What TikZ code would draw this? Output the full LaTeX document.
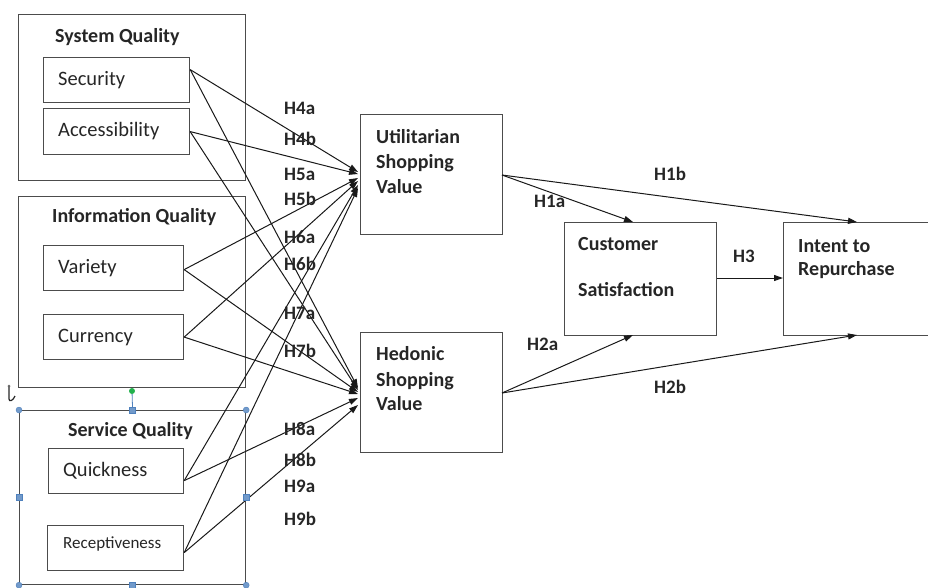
\documentclass[tikz,border=0pt]{standalone}
\usepackage{fontspec}
\setmainfont{Carlito}
\usetikzlibrary{arrows.meta}
\definecolor{handle}{HTML}{4F81BD}
\definecolor{rotgreen}{HTML}{22B14C}
\begin{document}
\begin{tikzpicture}[x=1pt,y=-1pt,
  box/.style={draw=black!70, line width=1.2pt, inner sep=0pt, anchor=north west},
  txt/.style={anchor=base west, inner sep=0pt, text=black!85},
  bold/.style={txt, font=\fontsize{20}{25}\selectfont\bfseries},
  reg/.style={txt, font=\fontsize{20.5}{25}\selectfont},
  small/.style={txt, font=\fontsize{17}{20}\selectfont},
  hyp/.style={txt, font=\fontsize{19}{22}\selectfont\bfseries},
  link/.style={draw=black!90, line width=1pt, -{Triangle[length=9pt,width=6pt]}},
  hsq/.style={draw=handle, fill=handle!80, minimum size=6pt, inner sep=0pt},
  hci/.style={circle, draw=handle, fill=handle!80, minimum size=6pt, inner sep=0pt}
]
\useasboundingbox (0,0) rectangle (928,587);

% ---------- group boxes ----------
\node[box, minimum width=227pt, minimum height=166pt] (sysq) at (18,14) {};
\node[box, minimum width=227pt, minimum height=191pt] (infq) at (18,196) {};
\node[box, minimum width=226pt, minimum height=174pt] (serq) at (19,410) {};

\node[bold] (tsys) at (55,42) {System Quality};
\node[bold] (tinf) at (52,222) {Information Quality};
\node[bold] (tser) at (68,436) {Service Quality};

% ---------- indicator boxes ----------
\node[box, minimum width=146pt, minimum height=45pt] (sec) at (43,57) {};
\node[box, minimum width=146pt, minimum height=46pt] (acc) at (43,108) {};
\node[box, minimum width=140pt, minimum height=45pt] (var) at (43,245) {};
\node[box, minimum width=140pt, minimum height=45pt] (cur) at (43,314) {};
\node[box, minimum width=135pt, minimum height=45pt] (qui) at (48,448) {};
\node[box, minimum width=136pt, minimum height=45pt] (rec) at (47,525) {};

\node[reg] (tsec) at (58,85) {Security};
\node[reg] (tacc) at (58,136) {Accessibility};
\node[reg] (tvar) at (58,273) {Variety};
\node[reg] (tcur) at (58,342) {Currency};
\node[reg] (tqui) at (63,476) {Quickness};
\node[small] (trec) at (63,548) {Receptiveness};

% ---------- construct boxes ----------
\node[box, minimum width=142pt, minimum height=120pt] (util) at (360,114) {};
\node[box, minimum width=142pt, minimum height=120pt] (hed) at (360,332) {};
\node[box, minimum width=152pt, minimum height=113pt] (cs) at (564,222) {};
\node[box, minimum width=160pt, minimum height=113pt] (itr) at (783,222) {};

\node[bold] (tu1) at (376,143) {Utilitarian};
\node[bold] (tu2) at (376,168) {Shopping};
\node[bold] (tu3) at (376,193) {Value};
\node[bold] (th1) at (376,360) {Hedonic};
\node[bold] (th2) at (376,386) {Shopping};
\node[bold] (th3) at (376,410) {Value};
\node[bold] (tc1) at (578,250) {Customer};
\node[bold] (tc2) at (578,296) {Satisfaction};
\node[bold] (ti1) at (798,252) {Intent to};
\node[bold] (ti2) at (798,275) {Repurchase};

% ---------- arrow end points ----------
\coordinate (u1) at (358,172);
\coordinate (u2) at (358,174);
\coordinate (u3) at (358,178);
\coordinate (u4) at (358,181);
\coordinate (u5) at (358,185);
\coordinate (u6) at (358,188);
\coordinate (h1) at (358,388);
\coordinate (h2) at (358,390);
\coordinate (h3) at (358,392);
\coordinate (h4) at (358,394);
\coordinate (h5) at (358,398);
\coordinate (h6) at (358,405);
\coordinate (csin1) at (633,222);
\coordinate (csin2) at (633,335);
\coordinate (itin1) at (857,222);
\coordinate (itin2) at (857,335);
\coordinate (uout) at (502,175);
\coordinate (hout) at (502,393);

% ---------- connectors ----------
\draw[link] ([yshift=10.5pt]sec.east) -- (u1);
\draw[link] ([yshift=10.5pt]sec.east) -- (h1);
\draw[link] (acc.east) -- (u2);
\draw[link] (acc.east) -- (h2);
\draw[link] ([yshift=-1.5pt]var.east) -- (u3);
\draw[link] ([yshift=-1.5pt]var.east) -- (h3);
\draw[link] (cur.east) -- (u4);
\draw[link] (cur.east) -- (h4);
\draw[link] ([yshift=-9.5pt]qui.east) -- (u5);
\draw[link] ([yshift=-9.5pt]qui.east) -- (h5);
\draw[link] ([yshift=-4.5pt]rec.east) -- (u6);
\draw[link] ([yshift=-4.5pt]rec.east) -- (h6);

\draw[link] (uout) -- (csin1);
\draw[link] (uout) -- (itin1);
\draw[link] (hout) -- (csin2);
\draw[link] (hout) -- (itin2);
\draw[link] (cs.east |- 0,278) -- (itr.west |- 0,278);

% ---------- hypothesis labels ----------
\node[hyp] (H4a) at (284,114) {H4a};
\node[hyp] (H4b) at (284,145) {H4b};
\node[hyp] (H5a) at (284,180) {H5a};
\node[hyp] (H5b) at (284,205) {H5b};
\node[hyp] (H6a) at (284,243) {H6a};
\node[hyp] (H6b) at (284,270) {H6b};
\node[hyp] (H7a) at (284,319) {H7a};
\node[hyp] (H7b) at (284,357) {H7b};
\node[hyp] (H8a) at (284,435) {H8a};
\node[hyp] (H8b) at (284,466) {H8b};
\node[hyp] (H9a) at (284,492) {H9a};
\node[hyp] (H9b) at (284,525) {H9b};
\node[hyp] (H1b) at (654,180) {H1b};
\node[hyp] (H1a) at (534,207) {H1a};
\node[hyp] (H3)  at (733,262) {H3};
\node[hyp] (H2a) at (527,350) {H2a};
\node[hyp] (H2b) at (654,393) {H2b};

% ---------- selection handles ----------
\node[circle, fill=rotgreen, minimum size=6pt, inner sep=0pt] (rot) at (132,391) {};
\draw[handle, line width=0.8pt] (rot) -- (serq.north);
\node[hci] (hnw) at (serq.north west) {};
\node[hsq] (hn)  at (serq.north) {};
\node[hci] (hne) at (serq.north east) {};
\node[hsq] (hw)  at (serq.west) {};
\node[hsq] (he)  at (serq.east) {};
\node[hci] (hsw) at (serq.south west) {};
\node[hsq] (hs)  at (serq.south) {};
\node[hci] (hse) at (serq.south east) {};
\draw[black!85, line width=1.2pt] (9,386) -- (9,399) .. controls (9,402) and (13,401) .. (15,396);
\fill[black!60] (9,386) circle (1.5pt);
\end{tikzpicture}
\end{document}
